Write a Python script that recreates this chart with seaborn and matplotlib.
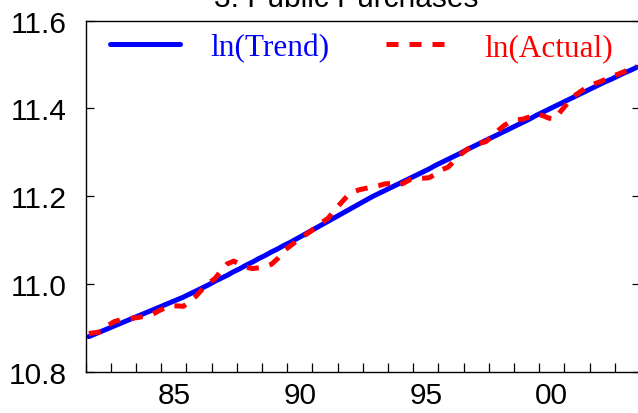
import numpy as np
import pandas as pd
import matplotlib
matplotlib.use("Agg")
import matplotlib.pyplot as plt
import seaborn as sns
from matplotlib.ticker import FixedLocator, FixedFormatter, MultipleLocator

# ---- data (quarterly, 1982Q1 .. 2003Q4) ----
start_year = 1982
n_quarters = 88

trend = [
    10.880, 10.886, 10.892, 10.898,
    10.904, 10.910, 10.916, 10.922,
    10.928, 10.934, 10.940, 10.946,
    10.952, 10.958, 10.964, 10.970,
    10.977, 10.984, 10.991, 10.998,
    11.006, 11.013, 11.020, 11.028,
    11.035, 11.043, 11.050, 11.058,
    11.065, 11.073, 11.080, 11.088,
    11.095, 11.103, 11.111, 11.119,
    11.127, 11.135, 11.143, 11.151,
    11.159, 11.167, 11.175, 11.183,
    11.191, 11.199, 11.206, 11.213,
    11.220, 11.227, 11.234, 11.241,
    11.248, 11.255, 11.262, 11.270,
    11.277, 11.284, 11.291, 11.298,
    11.306, 11.313, 11.320, 11.327,
    11.334, 11.341, 11.348, 11.355,
    11.362, 11.369, 11.376, 11.384,
    11.391, 11.398, 11.405, 11.412,
    11.419, 11.426, 11.433, 11.440,
    11.447, 11.454, 11.461, 11.467,
    11.474, 11.481, 11.487, 11.494,
]

actual = [
    10.887, 10.889, 10.891, 10.905,
    10.914, 10.918, 10.920, 10.922,
    10.924, 10.927, 10.930, 10.938,
    10.945, 10.950, 10.950, 10.949,
    10.960, 10.972, 10.988, 11.002,
    11.012, 11.030, 11.046, 11.052,
    11.045, 11.038, 11.035, 11.037,
    11.040, 11.045, 11.058, 11.076,
    11.087, 11.098, 11.108, 11.118,
    11.128, 11.140, 11.150, 11.168,
    11.184, 11.200, 11.210, 11.215,
    11.218, 11.221, 11.224, 11.228,
    11.229, 11.224, 11.230, 11.238,
    11.241, 11.241, 11.242, 11.250,
    11.260, 11.266, 11.280, 11.295,
    11.306, 11.316, 11.321, 11.324,
    11.336, 11.350, 11.362, 11.370,
    11.374, 11.376, 11.381, 11.387,
    11.384, 11.378, 11.376, 11.395,
    11.412, 11.428, 11.438, 11.448,
    11.455, 11.460, 11.466, 11.473,
    11.478, 11.484, 11.490, 11.497,
]

title_text = "3. Public Purchases"
series_labels = ["ln(Trend)", "ln(Actual)"]
y_ticks = [10.8, 11.0, 11.2, 11.4, 11.6]
x_label_years = [1985, 1990, 1995, 2000]
x_tick_labels = ["85", "90", "95", "00"]

# quarter mid-points as x positions
t = start_year + (np.arange(n_quarters) + 0.5) / 4.0
df = pd.DataFrame({"t": t, "trend": trend, "actual": actual})

# ---- style ----
sns.set_theme(style="white")
plt.rcParams["font.family"] = ["Liberation Sans", "DejaVu Sans"]

W, H = 638, 414
fig = plt.figure(figsize=(W / 100, H / 100), dpi=100)
ax_left, ax_right, ax_top, ax_bot = 85.7, 640.0, 21.7, 372.7
ax = fig.add_axes([ax_left / W, 1 - ax_bot / H, (ax_right - ax_left) / W, (ax_bot - ax_top) / H])

sns.lineplot(data=df, x="t", y="trend", ax=ax, color="#0000ff", linewidth=3.6,
             label=series_labels[0])
sns.lineplot(data=df, x="t", y="actual", ax=ax, color="#ff0000", linewidth=3.6,
             linestyle=(0, (2.4, 2.2)), label=series_labels[1])

ax.set_xlim(start_year, start_year + n_quarters / 4)
ax.set_ylim(y_ticks[0], y_ticks[-1])
ax.set_xlabel("")
ax.set_ylabel("")

# y ticks
ax.set_yticks(y_ticks)
ax.set_yticklabels([f"{v:.1f}" for v in y_ticks])
ax.tick_params(axis="y", which="major", direction="in", length=6, width=0.9,
               left=True, right=True, labelsize=21.5, pad=14, colors="black")

# x: labels centred in the year, minor ticks at year boundaries
ax.xaxis.set_major_locator(FixedLocator([y + 0.5 for y in x_label_years]))
ax.xaxis.set_major_formatter(FixedFormatter(x_tick_labels))
ax.xaxis.set_minor_locator(MultipleLocator(1))
ax.tick_params(axis="x", which="major", length=0, labelsize=21.5, pad=7, colors="black")
ax.tick_params(axis="x", which="minor", direction="in", length=6.5, width=0.9,
               bottom=True, top=False, colors="black")

for s in ax.spines.values():
    s.set_color("black")
    s.set_linewidth(1.0)
    s.set_visible(True)

# legends (two separate entries placed like the original)
handles, labels = ax.get_legend_handles_labels()
if ax.get_legend():
    ax.get_legend().remove()
axw = ax_right - ax_left
axh = ax_bot - ax_top
leg_y = (ax_bot - 48.5) / axh
leg1 = ax.legend([handles[0]], [labels[0]], loc="center left",
                 bbox_to_anchor=((110 - ax_left) / axw, leg_y),
                 frameon=False, borderpad=0, borderaxespad=0,
                 handlelength=2.25, handletextpad=0.95,
                 prop={"family": "Liberation Serif", "size": 22.5})
for txt in leg1.get_texts():
    txt.set_color("#0000ff")
ax.add_artist(leg1)
leg2 = ax.legend([handles[1]], [labels[1]], loc="center left",
                 bbox_to_anchor=((386 - ax_left) / axw, leg_y),
                 frameon=False, borderpad=0, borderaxespad=0,
                 handlelength=1.86, handletextpad=1.3,
                 prop={"family": "Liberation Serif", "size": 22.5})
for txt in leg2.get_texts():
    txt.set_color("#ff0000")

fig.text(346.5 / W, 1 - 7.3 / H, title_text, ha="center", va="baseline",
         fontsize=21.5, color="black")

fig.savefig("out.png", dpi=100)
